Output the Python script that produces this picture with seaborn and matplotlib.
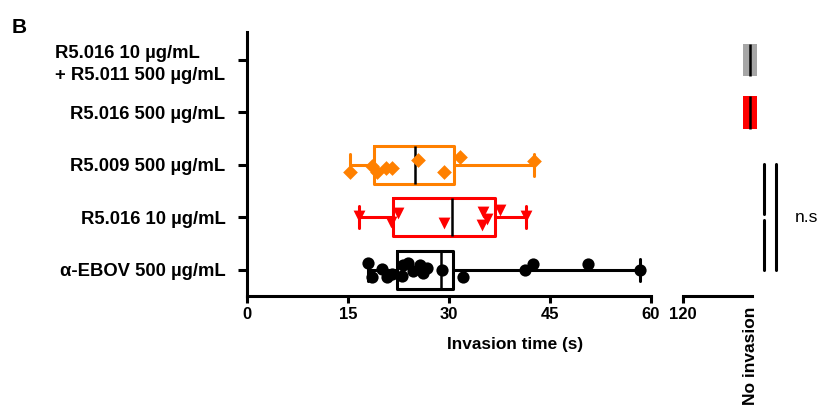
import numpy as np
import pandas as pd
import matplotlib
matplotlib.use('Agg')
import matplotlib.pyplot as plt
import seaborn as sns

# categories, top to bottom
groups = ["R5.016 10 µg/mL\n+ R5.011 500 µg/mL", "R5.016 500 µg/mL",
          "R5.009 500 µg/mL", "R5.016 10 µg/mL", "α-EBOV 500 µg/mL"]

# invasion times (s)
ebov_times = [18.0, 18.6, 20.0, 20.8, 21.5, 23.0, 23.2, 23.9, 24.7, 25.7,
              26.1, 26.7, 28.9, 32.1, 41.3, 42.5, 50.6, 58.4]
r5009_times = [15.3, 18.5, 19.3, 20.7, 21.5, 25.4, 29.2, 31.6, 42.6]
r5016_10_times = [16.7, 21.4, 22.5, 29.2, 34.9, 35.1, 35.6, 37.6, 41.5]

# box stats as drawn: q1, median, q3
ebov_box = [22.3, 28.8, 30.6]
r5009_box = [18.9, 24.9, 30.8]
r5016_10_box = [21.7, 30.5, 36.8]

# groups with no invasion at all (drawn on the broken part of the axis)
NOINV = 130.2
noinv_groups = [groups[0], groups[1]]

x_ticks = [0, 15, 30, 45, 60]

sns.set_style('ticks')
plt.rcParams['font.family'] = ['Liberation Sans', 'DejaVu Sans']
plt.rcParams.update({'text.color': 'black', 'axes.labelcolor': 'black',
                     'xtick.color': 'black', 'ytick.color': 'black',
                     'axes.edgecolor': 'black'})

LW = 2.2
fig = plt.figure(figsize=(8.2, 4.16), dpi=100)
bottom, height = 1 - 296 / 416, (296 - 32) / 416
ax = fig.add_axes([247 / 820, bottom, (651 - 247) / 820, height])
ax2 = fig.add_axes([683 / 820, bottom, (752 - 683) / 820, height])

np.random.seed(4)
series = [
    (groups[2], r5009_times, r5009_box, '#FF8000', 'D', 7.5),
    (groups[3], r5016_10_times, r5016_10_box, '#FF0000', 'v', 8.5),
    (groups[4], ebov_times, ebov_box, 'black', 'o', 8.8),
]
for name, vals, box, color, marker, size in series:
    df = pd.DataFrame({'time': vals, 'group': name})
    sns.stripplot(data=df, x='time', y='group', order=groups, orient='y',
                  color=color, marker=marker, size=size, jitter=0.15,
                  linewidth=0, ax=ax, zorder=3)
    stats = [dict(q1=box[0], med=box[1], q3=box[2],
                  whislo=min(vals), whishi=max(vals), fliers=[])]
    ax.bxp(stats, positions=[groups.index(name)], widths=0.72, capwidths=0.42,
           orientation='horizontal', manage_ticks=False, showfliers=False,
           boxprops=dict(color=color, linewidth=LW),
           whiskerprops=dict(color=color, linewidth=LW),
           capprops=dict(color=color, linewidth=LW),
           medianprops=dict(color='black', linewidth=1.8))

ax.set_xlim(0, 60)
ax.set_ylim(4.5, -0.533)
ax.set_xticks(x_ticks)
ax.set_xticks([60], minor=True)
ax.set_xlabel('')
ax.set_ylabel('')
sns.despine(ax=ax)
for s in ['left', 'bottom']:
    ax.spines[s].set_linewidth(LW)
    ax.spines[s].set_color('black')
ax.tick_params(axis='x', which='major', length=5, width=LW, labelsize=12, pad=3)
ax.tick_params(axis='x', which='minor', direction='in', length=5, width=LW)
ax.tick_params(axis='y', length=6.5, width=LW, labelsize=13.3, pad=9)
for t in ax.get_xticklabels() + ax.get_yticklabels():
    t.set_fontweight('bold')
ax.get_yticklabels()[0].set_multialignment('left')
ax.get_yticklabels()[0].set_linespacing(1.35)

# broken part: 120 and "No invasion"
colors_noinv = ['#A6A6A6', '#FF0000']
for name, c in zip(noinv_groups, colors_noinv):
    stats = [dict(q1=NOINV - 1.05, med=NOINV, q3=NOINV + 1.05,
                  whislo=NOINV, whishi=NOINV, fliers=[])]
    ax2.bxp(stats, positions=[groups.index(name)], widths=0.62,
            orientation='horizontal', manage_ticks=False, showfliers=False,
            showcaps=False, patch_artist=True,
            boxprops=dict(facecolor=c, edgecolor=c, linewidth=0, clip_on=False),
            whiskerprops=dict(linewidth=0),
            medianprops=dict(color='black', linewidth=1.8, clip_on=False))
ax2.set_xlim(120, 130.5)
ax2.set_ylim(4.5, -0.533)
ax2.set_yticks([])
ax2.set_xticks([120, NOINV])
ax2.set_xticklabels(['120', 'No invasion'])
ax2.set_xticks([120], minor=True)
for s in ['left', 'right', 'top']:
    ax2.spines[s].set_visible(False)
ax2.spines['bottom'].set_linewidth(LW)
ax2.spines['bottom'].set_color('black')
ax2.patch.set_alpha(0)
ax2.tick_params(axis='x', which='major', length=5, width=LW, labelsize=12, pad=3)
ax2.tick_params(axis='x', which='minor', direction='in', length=5, width=LW)
ax2.xaxis.get_major_ticks()[1].tick1line.set_visible(False)
labs = ax2.get_xticklabels()
for t in labs:
    t.set_fontweight('bold')
labs[1].set_rotation(90)
labs[1].set_va('top')
labs[1].set_ha('center')
labs[1].set_fontsize(12.5)

# significance brackets (comparisons among the three invading groups)
xl, xr = 132.3, 134.2
ax2.plot([xl, xl], [1.98, 2.93], color='black', lw=LW, clip_on=False)
ax2.plot([xl, xl], [3.05, 4.0], color='black', lw=LW, clip_on=False)
ax2.plot([xr, xr], [1.98, 4.0], color='black', lw=LW, clip_on=False)
ax2.text(137.0, 3.0, 'n.s', fontsize=12.5, va='center', ha='left', clip_on=False)

fig.text(515 / 820, 1 - 345 / 416, 'Invasion time (s)', fontsize=12.4,
         fontweight='bold', ha='center', va='center')
fig.text(12 / 820, 1 - 27.5 / 416, 'B', fontsize=15, fontweight='bold',
         ha='left', va='center')

fig.savefig('out.png', dpi=100)
plt.close(fig)
